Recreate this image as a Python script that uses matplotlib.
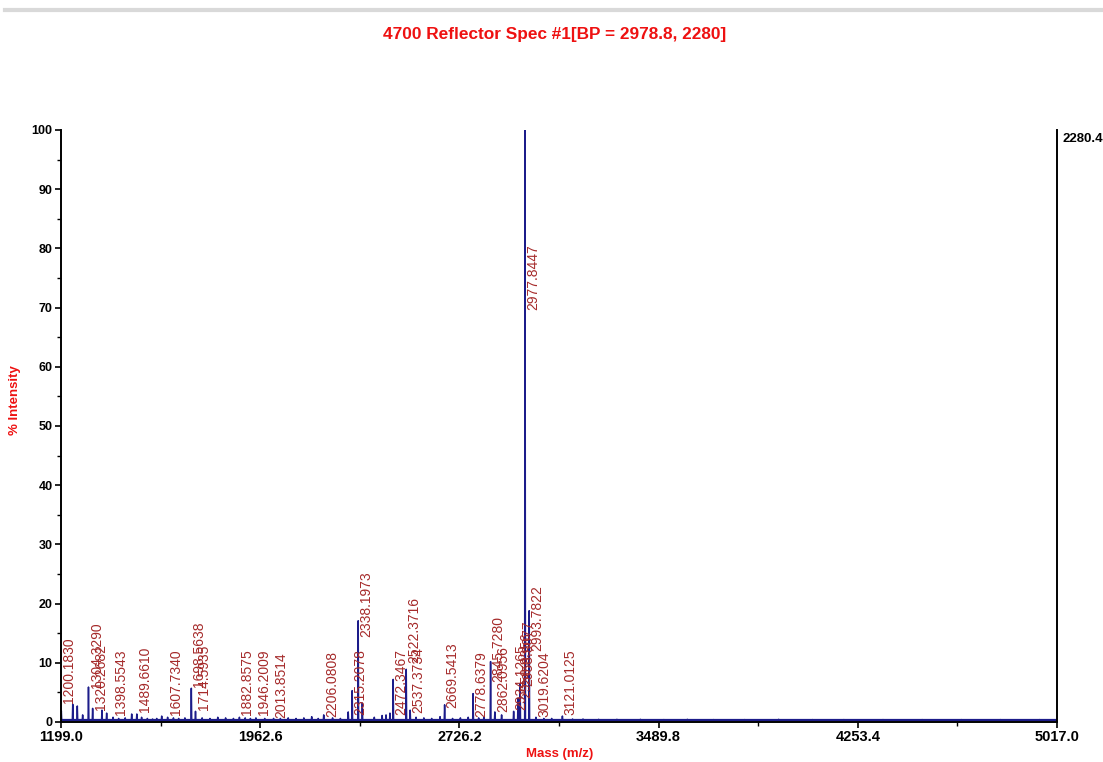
import numpy as np
import matplotlib.pyplot as plt
from matplotlib.lines import Line2D

plt.rcParams['font.family'] = ['Liberation Sans', 'DejaVu Sans']

# main peaks (m/z, % intensity)
peak_mz = [1200.18, 1244.0, 1261.5, 1282.0, 1304.33, 1320.27, 1356.0, 1374.0,
           1398.55, 1470.0, 1489.66, 1508.0, 1566.0, 1585.0, 1607.73, 1674.0,
           1698.56, 1714.59, 1882.86, 1946.20, 2013.85, 2160.0, 2206.08, 2300.0,
           2315.21, 2338.20, 2354.0, 2460.0, 2472.35, 2522.37, 2537.37, 2652.0,
           2669.54, 2778.64, 2845.73, 2862.10, 2888.0, 2934.13, 2950.84, 2958.91,
           2977.84, 2993.78, 3019.62, 3121.01]
peak_int = [1.9, 3.0, 2.7, 1.2, 5.9, 2.3, 2.0, 1.5,
            0.8, 1.35, 1.35, 0.8, 0.6, 1.0, 0.8, 0.7,
            5.7, 1.8, 0.8, 0.7, 0.6, 0.9, 1.2, 1.7,
            5.3, 17.1, 3.2, 1.5, 7.2, 8.9, 2.0, 0.9,
            2.9, 4.8, 10.2, 1.7, 1.2, 1.8, 4.0, 6.5,
            100.0, 18.8, 0.8, 1.0]

# small noise bumps along the baseline
minor_mz = [1420, 1445, 1530, 1550, 1630, 1650, 1740, 1770, 1800, 1830, 1860,
            1905, 1925, 1980, 2040, 2070, 2100, 2130, 2185, 2240, 2270, 2400,
            2430, 2445, 2560, 2590, 2620, 2700, 2730, 2760, 2800, 2820, 3050,
            3080, 3160, 3200, 3260, 3330, 3420, 3510, 3600, 3700, 3820, 3950,
            4080, 4200, 4350, 4500, 4650, 4800, 4950]
minor_int = [0.6, 0.7, 0.6, 0.5, 0.7, 0.6, 0.7, 0.6, 0.8, 0.7, 0.6,
             0.7, 0.6, 0.6, 0.6, 0.7, 0.6, 0.7, 0.6, 0.7, 0.6, 0.8,
             1.1, 1.2, 0.8, 0.7, 0.6, 0.6, 0.7, 0.8, 0.7, 0.8, 0.6,
             0.6, 0.5, 0.5, 0.45, 0.45, 0.45, 0.4, 0.45, 0.4, 0.4, 0.45,
             0.4, 0.4, 0.4, 0.4, 0.4, 0.4, 0.4]

label_mz = [1200.1830, 1304.3290, 1320.2682, 1398.5543, 1489.6610, 1607.7340,
            1698.5638, 1714.5935, 1882.8575, 1946.2009, 2013.8514, 2206.0808,
            2315.2078, 2338.1973, 2472.3467, 2522.3716, 2537.3734, 2669.5413,
            2778.6379, 2845.7280, 2862.0956, 2934.1265, 2950.8356, 2958.9077,
            2977.8447, 2993.7822, 3019.6204, 3121.0125]
# height at which each label text starts
label_y = [3.2, 5.8, 2.0, 1.2, 1.7, 1.2,
           5.9, 2.0, 1.2, 1.2, 0.7, 0.8,
           1.2, 14.4, 1.2, 10.0, 1.5, 2.4,
           0.8, 6.8, 1.7, 2.0, 4.0, 6.0,
           69.6, 12.0, 0.8, 1.2]

x_ticks = [1199.0, 1962.6, 2726.2, 3489.8, 4253.4, 5017.0]
base_level = 0.35
max_counts = 2280.4

# build a stick profile of the spectrum
mz_all = np.array(peak_mz + minor_mz, dtype=float)
int_all = np.array(peak_int + minor_int, dtype=float)
order = np.argsort(mz_all)
xs = [x_ticks[0]]
ys = [base_level]
for m, h in zip(mz_all[order], int_all[order]):
    xs += [m - 1.5, m, m + 1.5]
    ys += [base_level, h, base_level]
xs.append(x_ticks[-1])
ys.append(base_level)

fig = plt.figure(figsize=(11.03, 7.62), dpi=100)
ax = fig.add_axes([61 / 1103, 40 / 762, 996 / 1103, 592 / 762])

ax.plot(xs, ys, color='#1c1c8a', lw=1.1)
ax.axhline(base_level, color='#1c1c8a', lw=1.6)

for m, y in zip(label_mz, label_y):
    ax.text(m + 4, y, f'{m:.4f}', rotation=90, ha='left', va='bottom',
            fontsize=10, color='#a52a2a')

ax.set_xlim(x_ticks[0], x_ticks[-1])
ax.set_ylim(0, 100)
ax.set_xticks(x_ticks)
ax.set_xticklabels([f'{v:.1f}' for v in x_ticks], fontweight='bold', fontsize=10.5)
ax.set_xticks([(a + b) / 2 for a, b in zip(x_ticks[:-1], x_ticks[1:])], minor=True)
ax.set_yticks(np.arange(0, 101, 10))
ax.set_yticklabels([str(v) for v in range(0, 101, 10)], fontweight='bold', fontsize=9)
ax.set_yticks(np.arange(5, 100, 10), minor=True)
ax.tick_params(which='major', length=4, width=1.2, direction='out', pad=2)
ax.tick_params(which='minor', length=3, width=1.0, direction='out')

ax.spines['top'].set_visible(False)
for s in ['left', 'bottom', 'right']:
    ax.spines[s].set_linewidth(1.4)

ax.text(1.006, 0.995, f'{max_counts:.1f}', transform=ax.transAxes, ha='left', va='top',
        fontsize=9.5, fontweight='bold')

fig.text(555 / 1103, 1 - 35 / 762, '4700 Reflector Spec #1[BP = 2978.8, 2280]',
         ha='center', va='center', color='#ee1111', fontweight='bold', fontsize=12.4)
fig.text(560 / 1103, 1 - 754 / 762, 'Mass (m/z)', ha='center', va='center',
         color='#ee1111', fontweight='bold', fontsize=9.5)
fig.text(15 / 1103, 1 - 400 / 762, '% Intensity', ha='center', va='center', rotation=90,
         color='#ee1111', fontweight='bold', fontsize=9.5)

fig.add_artist(Line2D([5 / 1103, 1.0], [1 - 10 / 762] * 2, color='#d9d9d9', lw=3))

fig.savefig('out.png', dpi=100)
